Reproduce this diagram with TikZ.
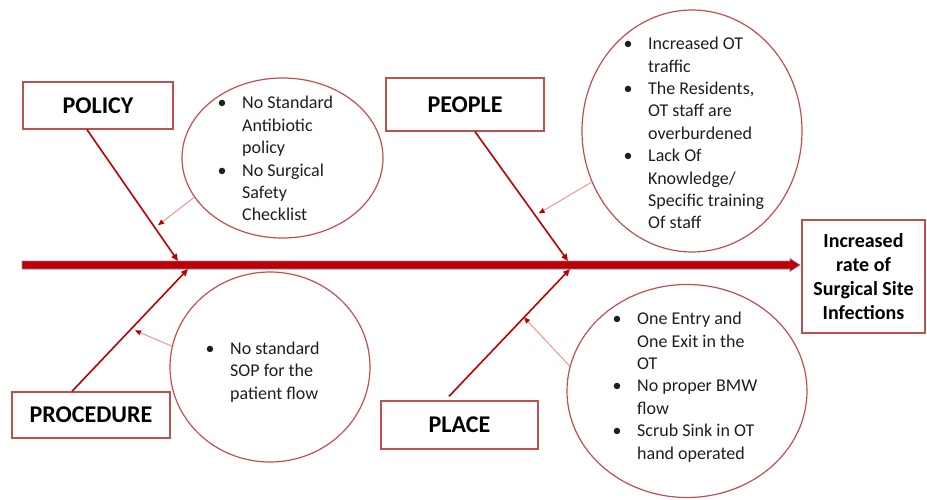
\documentclass[tikz,border=0pt]{standalone}
\usepackage{fontspec}
\setmainfont{Carlito}
\usetikzlibrary{arrows.meta,shapes.geometric,calc}

\definecolor{boxred}{RGB}{192,80,77}
\definecolor{bonered}{RGB}{192,0,0}
\definecolor{pinkline}{RGB}{232,150,150}
\definecolor{spineedge}{RGB}{130,130,180}
\definecolor{txt}{RGB}{30,30,30}

% bullet list helpers: bullet centred at the line start, text after a fixed gap
\newlength\bulgap
\setlength\bulgap{20pt}
\newcommand\bitem[1]{\makebox[\bulgap][l]{\makebox[0pt]{\textbullet}}#1}
\newcommand\bcont[1]{\hspace*{\bulgap}#1}

\tikzset{
  cause/.style={draw=boxred, line width=1.3pt, inner sep=0pt, text=black,
    font=\bfseries\fontsize{24}{28}\selectfont},
  effectbox/.style={draw=boxred, line width=1.3pt, inner sep=0pt, text=black,
    align=center, font=\bfseries\fontsize{20}{24}\selectfont},
  bubble/.style={ellipse, draw=boxred, line width=1.2pt, inner sep=0pt},
  % lists are placed by the baseline of their last line
  items/.style={inner sep=0pt, align=left, anchor=base west, text=txt,
    font=\fontsize{18}{22.4}\selectfont},
  bone/.style={draw=bonered, line width=1.6pt,
    -{Triangle[length=7pt,width=6pt]}},
  feed/.style={draw=pinkline, line width=1pt,
    -{Triangle[length=6pt,width=5pt,color=bonered]}},
}

\begin{document}
\begin{tikzpicture}[x=1pt,y=-1pt]
\useasboundingbox (0,0) rectangle (927,500);

% cause boxes and the effect box
\node[cause, minimum width=150pt, minimum height=47pt] (policy) at (98,105.5) {POLICY};
\node[cause, minimum width=158pt, minimum height=53pt] (people) at (465,104.5) {PEOPLE};
\node[cause, minimum width=158pt, minimum height=46pt] (procedure) at (91,415) {PROCEDURE};
\node[cause, minimum width=157pt, minimum height=48pt] (place) at (459.5,425) {PLACE};
\node[effectbox, minimum width=123pt, minimum height=113pt] (effect) at (863.5,276.5)
  {Increased\\rate of\\Surgical Site\\Infections};

% detail bubbles
\node[bubble, minimum width=201pt, minimum height=160pt] (polell) at (282.5,158) {};
\node[bubble, minimum width=220pt, minimum height=242pt] (peoell) at (692,131) {};
\node[bubble, minimum width=200pt, minimum height=190pt] (proell) at (270,367) {};
\node[bubble, minimum width=240pt, minimum height=213pt] (plaell) at (687,391) {};

\node[items] (poltext) at (222,221)
  {\bitem{No Standard}\\ \bcont{Antibiotic}\\ \bcont{policy}\\
   \bitem{No Surgical}\\ \bcont{Safety}\\ \bcont{Checklist}};
\node[items] (peotext) at (628,229)
  {\bitem{Increased OT}\\ \bcont{traffic}\\ \bitem{The Residents,}\\
   \bcont{OT staff are}\\ \bcont{overburdened}\\ \bitem{Lack Of}\\
   \bcont{Knowledge/}\\ \bcont{Specific training}\\ \bcont{Of staff}};
\node[items] (protext) at (210,399)
  {\bitem{No standard}\\ \bcont{SOP for the}\\ \bcont{patient flow}};
\node[items] (platext) at (617,459)
  {\bitem{One Entry and}\\ \bcont{One Exit in the}\\ \bcont{OT}\\
   \bitem{No proper BMW}\\ \bcont{flow}\\ \bitem{Scrub Sink in OT}\\
   \bcont{hand operated}};

% spine with its arrow head
\coordinate (tail) at (22,265);
\coordinate (tip) at (800,265);
\fill[bonered, draw=spineedge, line width=0.6pt]
  ($(tail)+(0,-4)$) -- ($(tip)+(-10,-4)$) -- ($(tip)+(-10,-6.5)$) -- (tip)
  -- ($(tip)+(-10,6.5)$) -- ($(tip)+(-10,4)$) -- ($(tail)+(0,4)$) -- cycle;

% where the bones meet the spine
\coordinate (j1) at (178,261);
\coordinate (j2) at (568,261);
\coordinate (j3) at (188,269);
\coordinate (j4) at (570,269);

% bones
\coordinate (b1) at ([xshift=-11pt]policy.south);
\coordinate (b2) at ([xshift=10pt]people.south);
\coordinate (b3) at ([xshift=-19pt]procedure.north);
\coordinate (b4) at ([xshift=-10.5pt,yshift=4pt]place.north);
\draw[bone] (b1) -- (j1);
\draw[bone] (b2) -- (j2);
\draw[bone] (b3) -- (j3);
\draw[bone] (b4) -- (j4);

% bubbles feeding their bones
\draw[feed, shorten >=4pt] (polell.204) -- ($(b1)!0.746!(j1)$);
\draw[feed, shorten >=4pt] (peoell.207) -- ($(b2)!0.648!(j2)$);
\draw[feed, shorten >=4pt] (proell.168) -- ($(b3)!0.511!(j3)$);
\draw[feed] (plaell.168) -- ($(b4)!0.62!(j4)$);
\end{tikzpicture}
\end{document}
